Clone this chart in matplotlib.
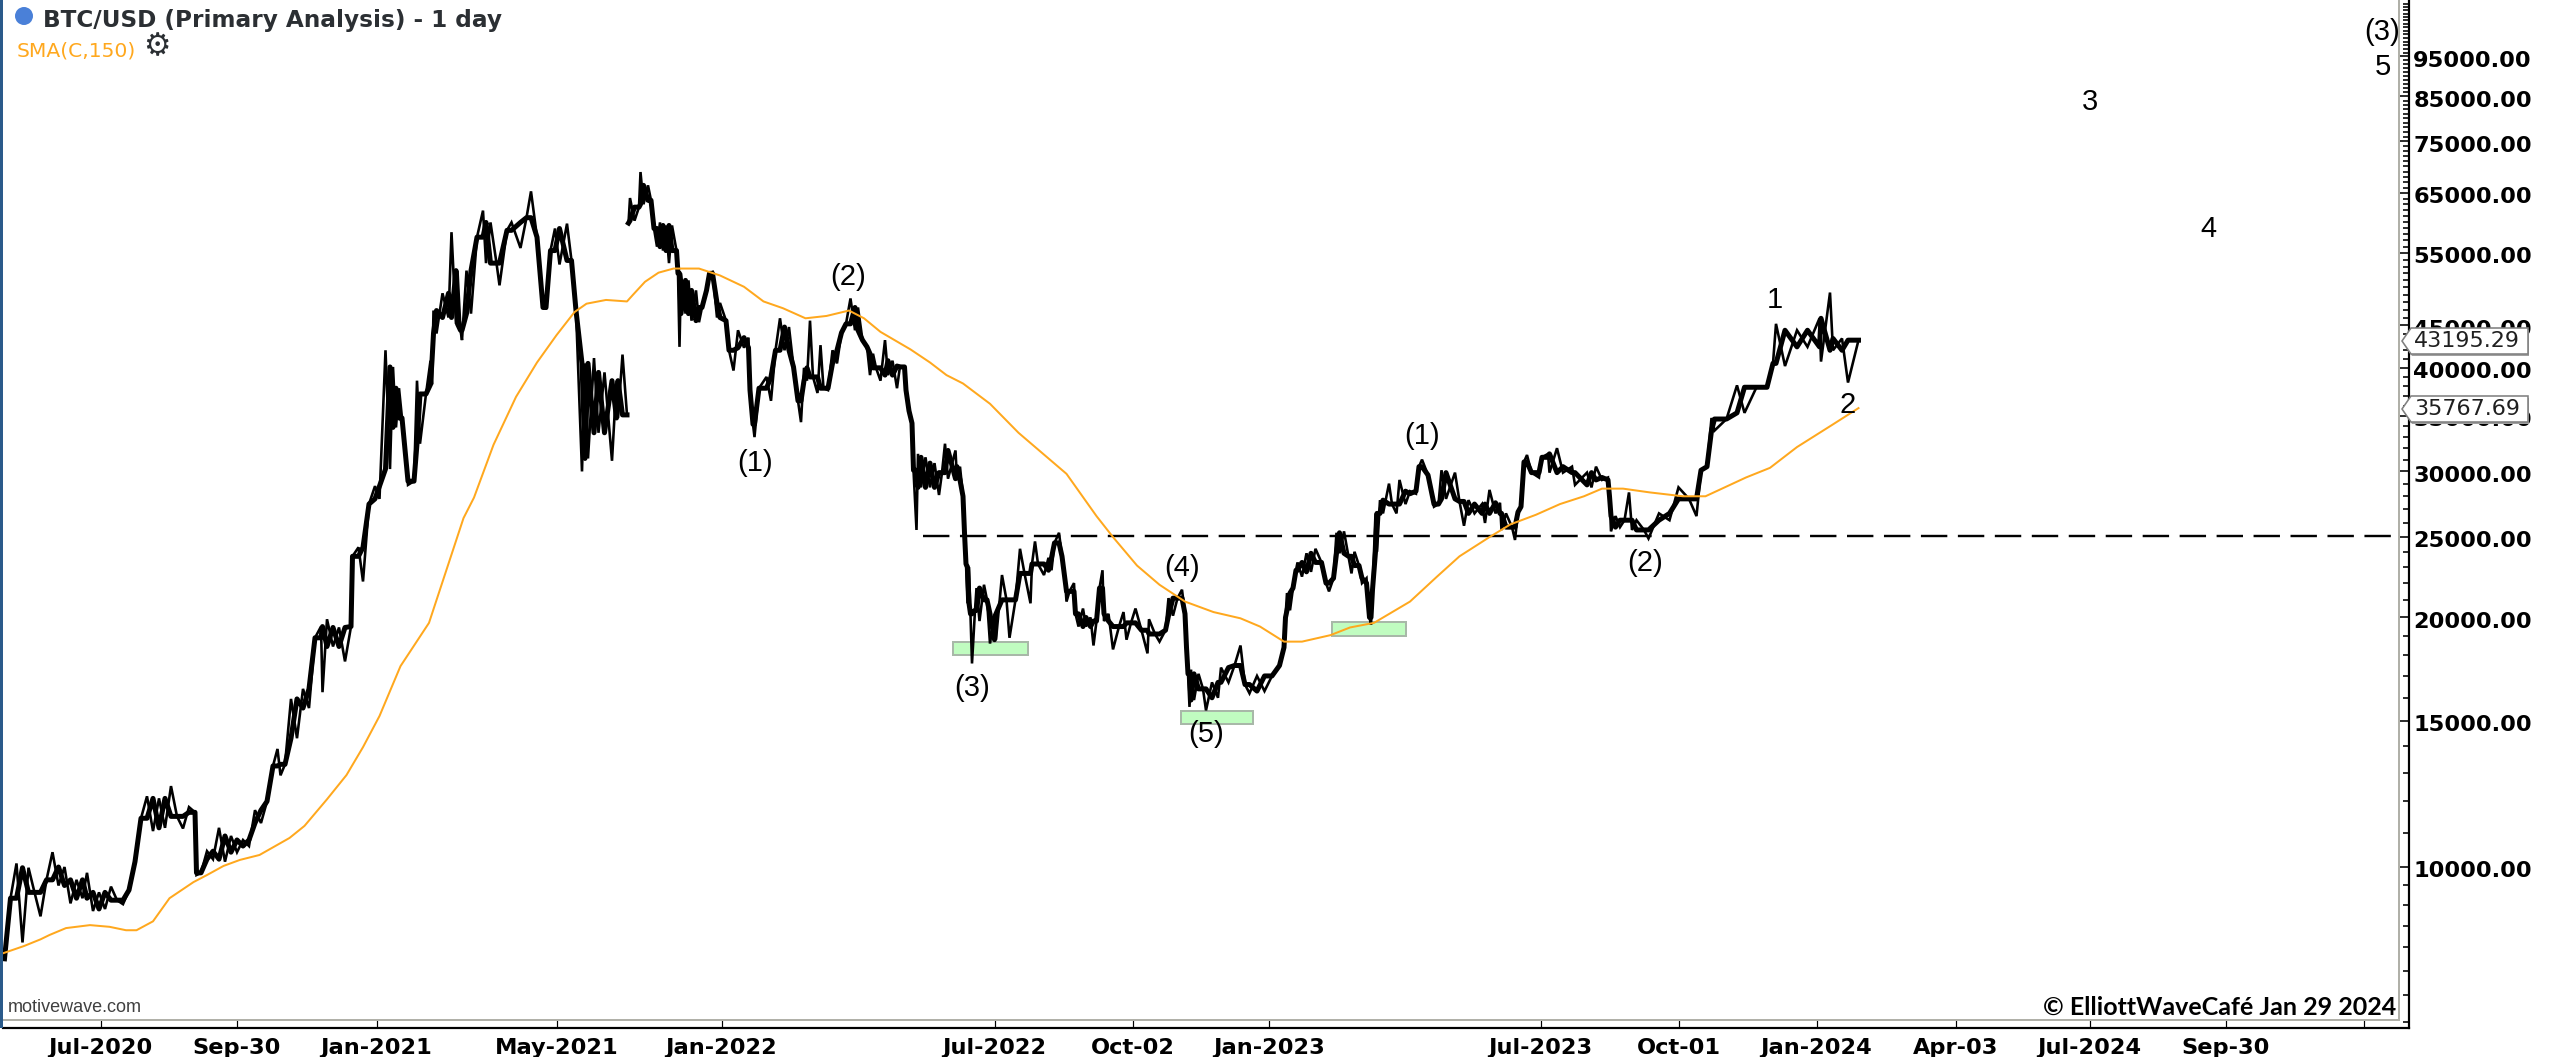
import numpy as np
import matplotlib
matplotlib.use("Agg")
import matplotlib.pyplot as plt
from matplotlib.patches import Rectangle, Polygon, Circle

# ---- data (bar number on the chart's x scale, USD prices) ----
early_bars = [1,5,9,13,17,21,25,29,33,37,41,45,49,53,56,60,64,68,72,76,80,84,88,92,96,100,104,108,112,116,120,124,128,129,132,136,140,144,148,152,156,160,164,168,172,176,180,183,185,188,192,196,200,204,208,212,213,216,220,224,228,232,233,237,240,244,248,251,255,258,260,262,264,266,270,274,276,278,282,285,286,287,289,293,297,299,302,303,305,306,309,312,316,320,322,325,329,331,336,339,345,349,352,356,360,362,365,368,371,376,379,382,386,388,390,394,397,401,406,409,410,413,416]
early_price = [7750,9170,10100,8110,9980,9320,8720,9650,10420,9500,10000,9040,9650,9170,9840,8850,9320,8900,9470,9120,9020,9380,10150,11450,12170,11050,12100,11150,12520,11510,11130,11810,11640,9780,9840,10450,10220,11150,10150,10900,10420,10780,10600,11710,11300,12000,13240,13880,12900,13300,15950,14300,16400,15550,18900,19500,16250,19900,18450,19450,17700,19500,23700,24300,22100,27400,28800,27800,42000,30200,40100,33900,37800,34800,28900,29200,38600,32400,37200,40800,38200,46900,44000,49200,46000,58300,45200,52400,44400,43200,52400,46500,57500,61900,53500,59900,53500,50300,58600,59900,55800,60700,65300,57500,47300,47200,55400,58900,53300,59700,53900,46900,30000,40500,31100,41100,33400,39500,30900,38600,34800,41500,35100]

late_bars = [417,418,421,424,425,427,430,432,434,436,438,440,442,444,446,449,450,451,452,455,457,459,462,464,466,469,471,473,476,478,482,484,487,490,494,497,498,500,501,504,509,512,515,518,521,524,527,530,532,534,536,
538,540,543,545,547,550,553,556,559,562,565,568,570,573,576,578,580,582,585,588,590,593,596,598,601,602,604,606,607,609,610,612,615,618,621,624,626,628,630,635,636,638,640,641,642,643,644,645,646,648,649,651,654,656,658,661,662,666,669,671,675,678,681,685,686,688,690,694,697,699,701,704,706,708,709,711,714,715,717,720,722,725,727,729,731,733,734,737,740,744,747,749,752,755,759,763,764,768,771,775,777,780,783,786,788,789,790,791,792,794,797,800,802,806,810,812,817,821,825,828,831,836,
841,846,851,854,855,856,858,860,862,863,866,869,872,875,879,882,884,887,889,891,894,897,899,901,904,906,909,911,912,913,915,916,918,920,924,926,929,931,935,938,942,944,946,950,954,957,959,962,968,971,974,977,981,986,988,991,995,998,999,1002,1006,1008,1010,1012,1014,1016,1019,1024,1026,1030,1031,1036,1040,1046,1048,1056,1059,1062,1066,1070,1071,1072,1075,1078,1081,1084,1086,1089,1094,1097,
1104,1111,1117,1124,1129,1132,1136,1139,1141,1149,1156,1161,1169,1176,1180,1182,1188,1196,1203,1211,1212,1218,1220,1226,1230,1237]
late_price = [59800,64100,60200,62500,68900,63000,66400,63700,58900,56000,59900,55400,59400,53500,59400,55400,52000,42400,52000,46500,51000,45600,49600,45400,47300,49600,52000,52200,46000,47900,45600,42000,39700,44400,42300,43500,37600,34200,33000,37800,39000,36500,42000,45900,42000,44800,40100,36500,34400,40000,38600,
45600,39000,37300,42600,37800,37600,42000,40500,44100,45200,48500,44400,47300,43200,42400,39200,41600,40000,38600,43200,39200,40800,37800,40200,40100,37600,35500,34300,30100,25500,31500,28700,31200,28700,30700,28100,29900,32400,29400,31800,29300,30400,28000,25300,23200,20800,23000,20200,17600,20400,21700,19800,21900,21000,18600,20200,18800,22500,21000,18900,21000,24200,22600,20800,23200,24700,23200,22500,23600,22800,24600,25300,23700,22200,20900,21500,22000,20200,19500,20500,19500,20000,18500,19800,21700,22800,19800,20200,18300,19500,20300,18800,19700,20500,19300,18100,19900,19100,18700,19300,21100,20100,21100,21600,20200,18400,17100,15600,17300,15900,17100,16400,15450,16700,16000,17400,16700,17500,18500,16600,16200,17000,
16300,17000,17500,18400,20000,21400,20400,21700,22800,23300,22400,23900,22700,24200,23300,22000,21500,22300,25300,23900,25400,23700,22600,24000,23100,22000,22300,20000,19600,21600,26700,24000,27700,26700,29000,27400,26700,29300,27400,28400,28200,30400,31000,29700,27200,27400,30100,27800,29900,27600,25800,27700,26700,27400,26000,28500,26700,27500,25500,26700,25700,24800,26800,27200,30800,31400,29900,29500,31200,31500,29900,32000,29900,30400,28900,29900,28700,30400,29300,29500,28000,25400,26500,25700,26200,28300,25500,26200,25500,24900,
26700,26200,28700,27800,26500,30100,30400,34800,33600,34700,38100,35300,37900,37900,40500,45200,40200,44400,42400,45900,40700,49300,42000,43400,38400,43195]

sma_bars = [0,14,25,31,42,58,71,82,89,100,111,127,136,147,158,171,191,201,216,229,240,251,265,284,307,314,327,342,356,369,381,389,402,416,420,428,437,447,464,478,494,507,520,535,549,564,574,585,605,618,629,640,658,677,689,709,729,740,756,771,788,807,825,838,854,866,885,898,914,938,956,971,991,1005,1022,1038,1054,1066,1080,1098,1120,1135,1162,1178,1196,1219,1237]
sma_price = [7870,8030,8180,8280,8440,8510,8470,8390,8390,8600,9170,9590,9780,10030,10200,10340,10840,11210,12070,12910,13950,15210,17470,19700,26350,27900,32300,36900,40600,43800,46700,47800,48300,48100,49000,50800,52100,52700,52700,51700,50100,48100,47200,45900,46200,46900,45900,44200,42100,40600,39200,38300,36200,33400,32000,29800,26500,25000,23100,21900,20900,20300,19950,19500,18700,18700,19040,19450,19700,20900,22400,23700,25000,25900,26600,27400,28000,28600,28600,28300,28000,28000,29500,30300,32100,34100,35768]

support_level = 25050
support_bars = [613, 1597]

zone_low = [18020, 14870, 18990]
zone_high = [18680, 15420, 19750]
zone_start = [633, 785, 886]
zone_end = [683, 833, 935]

price_labels = [95000,85000,75000,65000,55000,45000,40000,35000,30000,25000,20000,15000,10000]
date_ticks = [65,156,249,369,479,661,753,844,1025,1117,1209,1302,1391,1482,1574]
date_labels = ["Jul-2020","Sep-30","Jan-2021","May-2021","Jan-2022","Jul-2022","Oct-02","Jan-2023","Jul-2023","Oct-01","Jan-2024","Apr-03","Jul-2024","Sep-30",""]
last_close = "43195.29"
last_sma = "35767.69"
wave_text = ["(1)","(2)","(3)","(4)","(5)","(1)","(2)","1","2","3","4","5","(3)"]

# the dense daily bars form a solid band: the middle of the readings, drawn thick
def band_core(values):
    v = np.asarray(values, float)
    out = v.copy()
    for i in range(1, len(v) - 1):
        out[i] = np.median(v[i-1:i+2])
    return out

# ---- figure ----
W, H = 2559, 1057
fig = plt.figure(figsize=(W/100, H/100), dpi=100, facecolor="white")
px = 0.72  # one pixel in points
L, R, B = 3, 2409, 1028
ax = fig.add_axes([L/W, (H-B)/H, (R-L)/W, B/H])
ax.set_yscale("log")
ax.set_xlim(0, (R-L)/1.5)
ax.set_ylim(6395, 111100)

for bars, price in ((early_bars, early_price), (late_bars, late_price)):
    ax.plot(bars, price, color="black", lw=2.6*px, solid_joinstyle="miter", zorder=3)
    ax.plot(bars, band_core(price), color="black", lw=5.0*px, zorder=3)
ax.plot(sma_bars, sma_price, color="#ffa81e", lw=2.0*px, zorder=4)
ax.plot(support_bars, [support_level]*2, color="black", lw=2.4*px, dashes=(11, 4.4), zorder=2)

for lo, hi, s, e in zip(zone_low, zone_high, zone_start, zone_end):
    ax.add_patch(Rectangle((s, lo), e-s, hi-lo, facecolor="#c0fcc0", edgecolor="#a8b8a8", lw=2*px, zorder=2.5))

for s in ("top", "left"):
    ax.spines[s].set_visible(False)
for s in ("right", "bottom"):
    ax.spines[s].set_linewidth(2.2*px)
    ax.spines[s].set_color("black")

# inner grey frame
fx = (2399-L)/(R-L); fy = (B-1020)/B
ax.plot([fx, fx], [fy, 1], transform=ax.transAxes, color="#b0b0a8", lw=2*px, clip_on=False)
ax.plot([0, fx], [fy, fy], transform=ax.transAxes, color="#b0b0a8", lw=2*px, clip_on=False)

ax.yaxis.tick_right()
ax.set_yticks(price_labels)
ax.set_yticklabels([""] * len(price_labels))
for v in price_labels:
    ax.annotate(f"{v:.2f}", xy=(1, v), xycoords=ax.get_yaxis_transform(), xytext=(3, -3),
                textcoords="offset points", fontsize=16.2, fontweight="bold", family="DejaVu Sans",
                ha="left", va="center", color="black", annotation_clip=False)
minor = [v for v in list(range(6500, 10000, 500)) + list(range(11000, 111000, 1000)) if v not in price_labels]
ax.set_yticks(minor, minor=True)
ax.yaxis.set_minor_formatter(plt.NullFormatter())
ax.tick_params(axis="y", which="major", direction="in", length=10*px, width=1.6*px, color="black")
ax.tick_params(axis="y", which="minor", direction="in", length=6*px, width=1.6*px, color="black")
ax.set_xticks(date_ticks)
ax.set_xticklabels(date_labels, fontsize=16.2, fontweight="bold", family="DejaVu Sans")
ax.tick_params(axis="x", which="both", direction="in", length=8*px, width=1.2*px, pad=7, color="black")
ax.xaxis.set_minor_locator(plt.NullLocator())

# ---- overlay in picture pixels for the annotations ----
ov = fig.add_axes([0, 0, 1, 1], facecolor="none")
ov.set_xlim(0, W); ov.set_ylim(H, 0); ov.axis("off")

ov.add_patch(Rectangle((0, 0), 3.2, 1028, facecolor="#2a5a8a", edgecolor="none"))
ov.add_patch(Circle((24, 16), 9, facecolor="#4a80d8", edgecolor="none"))
ov.text(43, 20, "BTC/USD (Primary Analysis) - 1 day", fontsize=16.7, fontweight="bold",
        color="#2b2f33", va="center", ha="left", family="DejaVu Sans")
ov.text(17, 51, "SMA(C,150)", fontsize=14.6, color="#ffa81e", va="center", ha="left", family="DejaVu Sans")
ov.text(157, 47, "\u2699", fontsize=22, color="#2b2f33", va="center", ha="center", family="DejaVu Sans")
ov.text(8, 1007, "motivewave.com", fontsize=13, color="#404040", va="center", ha="left", family="Liberation Sans")
ov.text(2396, 1007, "\u00a9 ElliottWaveCaf\u00e9 Jan 29 2024", fontsize=18, fontweight="bold", color="black",
        va="center", ha="right", family="Lato")

wave_x = [755, 848, 972, 1182, 1206, 1422, 1645, 1775, 1848, 2090, 2208, 2383, 2382]
wave_y = [463, 277, 688, 568, 734, 436, 563, 300, 405, 102, 229, 67, 32]
for t, x, y in zip(wave_text, wave_x, wave_y):
    ov.text(x, y, t, fontsize=21, color="black", ha="center", va="center", family="Liberation Sans", zorder=6)

for txt, cy in ((last_close, 341), (last_sma, 409)):
    pts = [(2402, cy), (2411, cy-13), (2528, cy-13), (2528, cy+13), (2411, cy+13)]
    ov.add_patch(Polygon([(a+1, b+2) for a, b in pts], closed=True, facecolor="#a0a0a0", edgecolor="none", zorder=7))
    ov.add_patch(Polygon(pts, closed=True, facecolor="white", edgecolor="#808080", lw=1.6*px, zorder=8))
    ov.text(2467, cy, txt, fontsize=16, color="#202020", ha="center", va="center", family="DejaVu Sans", zorder=9)

fig.savefig("out.png", dpi=100)
